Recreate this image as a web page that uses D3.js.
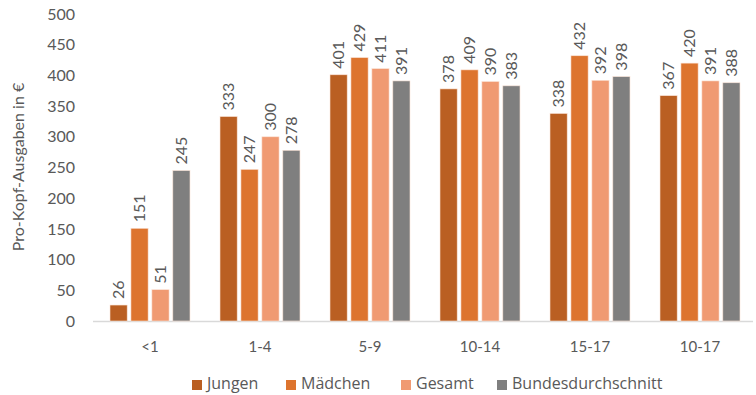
<!DOCTYPE html>
<html><head><meta charset="utf-8">
<script src="https://cdn.jsdelivr.net/npm/d3@7"></script>
<style>body{margin:0;background:#fff}svg{display:block}text{font-family:Lato,"Open Sans",sans-serif}</style>
</head><body><svg id="c" width="756" height="395"></svg>
<script>
const categories = ["<1","1-4","5-9","10-14","15-17","10-17"];
const seriesNames = ["Jungen","Mädchen","Gesamt","Bundesdurchschnitt"];
const jungen = [26,333,401,378,338,367];
const maedchen = [151,247,429,409,432,420];
const gesamt = [51,300,411,390,392,391];
const bundes = [245,278,391,383,398,388];
const yTicks = [0,50,100,150,200,250,300,350,400,450,500];
const colors = ["#BA5F22","#DD742E","#F09A72","#7F7F7F"];
const seriesVals = [jungen,maedchen,gesamt,bundes];

const svg = d3.select("#c");
const x = d3.scaleBand().domain(categories).range([95,755]).paddingInner(0).paddingOuter(0);
const xs = d3.scaleBand().domain(seriesNames).range([0,80]).paddingInner(0.18);
const y = d3.scaleLinear().domain([0,500]).range([321,14]);

svg.append("g").selectAll("text").data(yTicks).join("text")
  .attr("x",75).attr("y",d=>y(d)).attr("dy","0.35em").attr("text-anchor","end")
  .attr("font-size",16).attr("fill","#595959").text(d=>d);

svg.append("text").attr("transform","translate(24,167) rotate(-90)")
  .attr("text-anchor","middle").attr("font-size",16).attr("fill","#595959")
  .text("Pro-Kopf-Ausgaben in €");

svg.append("line").attr("x1",93).attr("x2",753).attr("y1",y(0)+0.5).attr("y2",y(0)+0.5)
  .attr("stroke","#D9D9D9").attr("stroke-width",1.5);

const g = svg.append("g");
seriesNames.forEach((s,i)=>{
  const vals = seriesVals[i];
  const gx = c => x(c) + (x.bandwidth()-80)/2 + xs(s);
  g.selectAll(null).data(categories).join("rect")
    .attr("x",c=>gx(c)).attr("width",xs.bandwidth())
    .attr("y",(c,j)=>y(vals[j])).attr("height",(c,j)=>y(0)-y(vals[j]))
    .attr("fill",colors[i]).attr("stroke","#fbe3d6").attr("stroke-width",0.6);
  g.selectAll(null).data(categories).join("text")
    .attr("transform",(c,j)=>`translate(${gx(c)+xs.bandwidth()/2+5.5},${y(vals[j])-6}) rotate(-90)`)
    .attr("font-size",16).attr("fill","#595959").attr("text-anchor","start")
    .text((c,j)=>vals[j]);
});

svg.append("g").selectAll("text").data(categories).join("text")
  .attr("x",c=>x(c)+x.bandwidth()/2).attr("y",352).attr("text-anchor","middle")
  .attr("font-size",15).attr("fill","#595959").text(d=>d);

const legSq = [192,286,401,497];
const lg = svg.append("g");
seriesNames.forEach((s,i)=>{
  lg.append("rect").attr("x",legSq[i]).attr("y",380).attr("width",10).attr("height",10).attr("fill",colors[i]);
  lg.append("text").attr("x",legSq[i]+15).attr("y",389).attr("font-size",16)
    .style("font-family","'Open Sans',sans-serif").attr("fill","#595959").text(s);
});
</script></body></html>
